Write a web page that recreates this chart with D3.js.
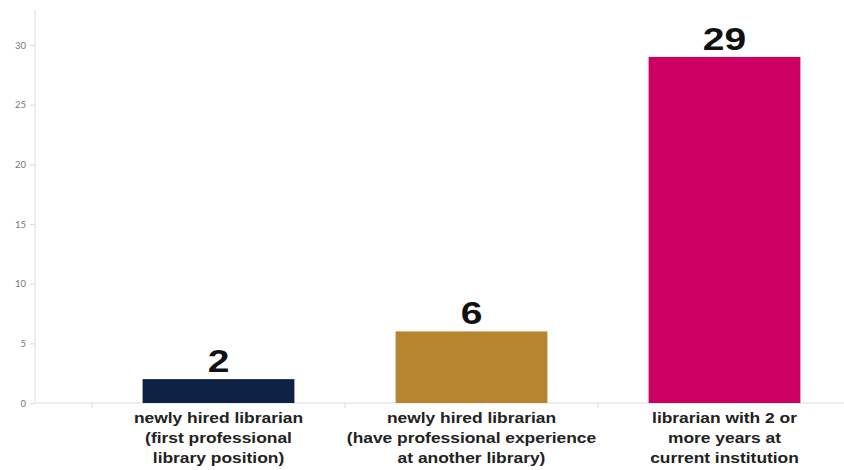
<!DOCTYPE html>
<html>
<head>
<meta charset="utf-8">
<script src="https://cdn.jsdelivr.net/npm/d3@7"></script>
<style>
  body { margin: 0; background: #fff; }
  svg { display: block; }
</style>
</head>
<body>
<div id="chart"></div>
<script>
// chart data
var categories = [
    ["newly hired librarian", "(first professional", "library position)"],
    ["newly hired librarian", "(have professional experience", "at another library)"],
    ["librarian with 2 or", "more years at", "current institution"]
];
var values = [2, 6, 29];
var barColors = ["#0d2245", "#b5862f", "#cc0062"];
var yTicks = [0, 5, 10, 15, 20, 25, 30];

var width = 844;
var height = 470;
var stretch = 1.2; // text in the original looks widened

var svg = d3.select("#chart").append("svg")
    .attr("width", width)
    .attr("height", height);

var xScale = d3.scaleBand()
    .domain(d3.range(values.length))
    .range([92, 851])
    .padding(0);

var yScale = d3.scaleLinear()
    .domain([0, 30])
    .range([403, 45]);

/* axes */
var axisColor = "#dcdcdc";

// y axis line
svg.append("line")
    .attr("x1", 35).attr("x2", 35)
    .attr("y1", 10).attr("y2", yScale(0))
    .attr("stroke", axisColor)
    .attr("stroke-width", 1);

// x axis line
svg.append("line")
    .attr("x1", 35).attr("x2", width)
    .attr("y1", yScale(0)).attr("y2", yScale(0))
    .attr("stroke", axisColor)
    .attr("stroke-width", 1);

var yAxis = svg.append("g")
    .attr("transform", "translate(35,0)")
    .call(d3.axisLeft(yScale).tickValues(yTicks).tickSize(5).tickPadding(4));
yAxis.select(".domain").remove();
yAxis.selectAll(".tick line").attr("stroke", axisColor);
yAxis.selectAll(".tick text")
    .attr("fill", "#777")
    .style("font-family", "Lato, 'Open Sans', sans-serif")
    .style("font-size", "9.5px");

// x ticks at band boundaries
svg.append("g")
    .selectAll("line")
    .data(d3.range(values.length))
    .enter()
    .append("line")
    .attr("x1", d => xScale(d)).attr("x2", d => xScale(d))
    .attr("y1", yScale(0)).attr("y2", yScale(0) + 5)
    .attr("stroke", axisColor);

/* bars */
var barW = xScale.bandwidth() * 0.6;
svg.append("g")
    .selectAll("rect")
    .data(values)
    .enter()
    .append("rect")
    .attr("x", (d, i) => xScale(i) + (xScale.bandwidth() - barW) / 2)
    .attr("y", d => yScale(d))
    .attr("width", barW)
    .attr("height", d => yScale(0) - yScale(d))
    .attr("fill", (d, i) => barColors[i]);

// value labels
svg.append("g")
    .selectAll("text")
    .data(values)
    .enter()
    .append("text")
    .attr("transform", (d, i) => "translate(" + (xScale(i) + xScale.bandwidth() / 2) + "," + (yScale(d) - 7) + ") scale(1.22,1)")
    .attr("text-anchor", "middle")
    .style("font-family", "'Liberation Sans', Arial, sans-serif")
    .style("font-weight", "bold")
    .style("font-size", "32px")
    .attr("fill", "#111")
    .text(d => d);

// category labels
var catLabels = svg.append("g")
    .selectAll("text")
    .data(categories)
    .enter()
    .append("text")
    .attr("transform", (d, i) => "translate(" + (xScale(i) + xScale.bandwidth() / 2) + "," + (yScale(0) + 20) + ") scale(" + stretch + ",1)")
    .attr("text-anchor", "middle")
    .style("font-family", "'Liberation Sans', Arial, sans-serif")
    .style("font-weight", "bold")
    .style("font-size", "14.5px")
    .attr("fill", "#222");

catLabels.selectAll("tspan")
    .data(d => d)
    .enter()
    .append("tspan")
    .attr("x", 0)
    .attr("dy", (d, i) => i === 0 ? 0 : 20)
    .text(d => d);
</script>
</body>
</html>
